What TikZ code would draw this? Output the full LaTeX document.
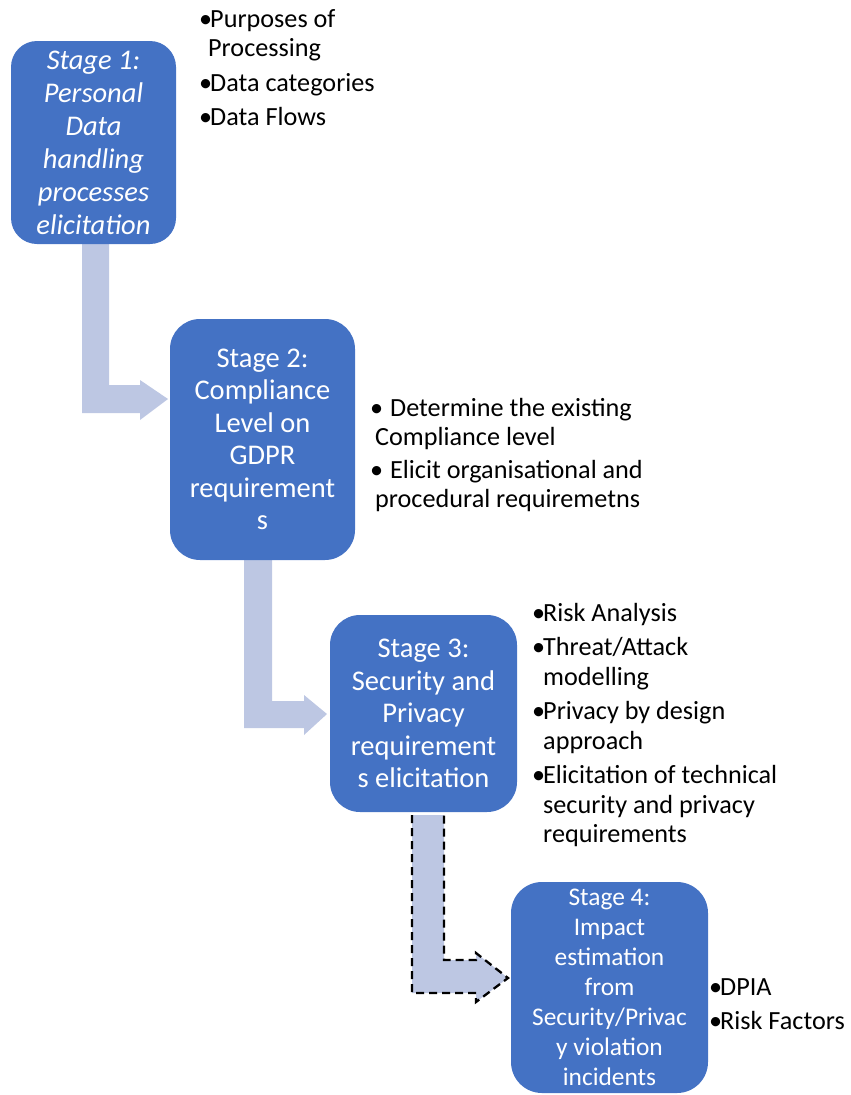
\documentclass[tikz,border=0pt]{standalone}
\usepackage{fontspec}
\setmainfont{Carlito}
\definecolor{boxblue}{HTML}{4472C4}
\definecolor{arrowblue}{HTML}{BDC7E3}
\newcommand{\bul}{\makebox[11pt][l]{•}}
\begin{document}
\begin{tikzpicture}[x=1pt,y=-1pt,
  stagebox/.style={fill=boxblue,draw=none,text=white,align=center,inner sep=0pt,
    font=\fontsize{28.5}{32.5}\selectfont},
  bentarrow/.style={fill=arrowblue,draw=none},
  dasharrow/.style={fill=arrowblue,draw=black,line width=2.3pt,dash pattern=on 8pt off 5pt},
  bullets/.style={align=left,anchor=north west,inner sep=0pt,text=black,
    font=\fontsize{26.2}{29.5}\selectfont}]
\useasboundingbox (0,0) rectangle (851,1095);
% arrows (behind boxes)
\fill[bentarrow] (82,244) -- (109,244) -- (109,385) -- (140,385) -- (140,380) -- coordinate (t1) (168,399) -- (140,420) -- (140,413) -- (82,413) -- cycle;
\fill[bentarrow] (244,557) -- (272,557) -- (272,701) -- (304,701) -- (304,695) -- (327,714) -- (304,735) -- (304,728) -- (244,728) -- cycle;
\draw[dasharrow] (412,815) -- (412,993) -- (476,993) -- (476,1002) -- (508,978) -- (476,953) -- (476,960) -- (444,960) -- (444,815);
% boxes
\node[stagebox,minimum width=165pt,minimum height=203pt,rounded corners=26pt,
  font=\fontsize{28.5}{33}\selectfont\itshape] (s1) at (93.5,142.5)
  {Stage 1:\\Personal\\Data\\handling\\processes\\elicitation};
\node[stagebox,minimum width=185pt,minimum height=241pt,rounded corners=30pt] (s2) at (262.5,439.5)
  {Stage 2:\\Compliance\\Level on\\GDPR\\requirement\\s};
\node[stagebox,minimum width=187pt,minimum height=197pt,rounded corners=30pt] (s3) at (423.5,713.5)
  {Stage 3:\\Security and\\Privacy\\requirement\\s elicitation};
\node[stagebox,minimum width=197pt,minimum height=211pt,rounded corners=31pt,
  font=\fontsize{25.4}{30}\selectfont] (s4) at (609.5,987.5)
  {Stage 4:\\Impact\\estimation\\from\\Security/Privac\\y violation\\incidents};
% bullet lists
\node[bullets] (l1) at (199,9)
  {\bul Purposes of\\\hspace*{9pt}Processing\\[5pt]\bul Data categories\\[5pt]\bul Data Flows};
\node[bullets] (l2) at (370,398)
  {\makebox[20pt][l]{•}Determine the existing\\\hspace*{5pt}Compliance level\\[3pt]\makebox[20pt][l]{•}Elicit organisational and\\\hspace*{5pt}procedural requiremetns};
\node[bullets] (l3) at (532,603)
  {\bul Risk Analysis\\[5pt]\bul Threat/Attack\\\hspace*{11pt}modelling\\[5pt]\bul Privacy by design\\\hspace*{11pt}approach\\[5pt]\bul Elicitation of technical\\\hspace*{11pt}security and privacy\\\hspace*{11pt}requirements};
\node[bullets] (l4) at (709,978)
  {\bul DPIA\\[5pt]\bul Risk Factors};
\end{tikzpicture}
\end{document}
